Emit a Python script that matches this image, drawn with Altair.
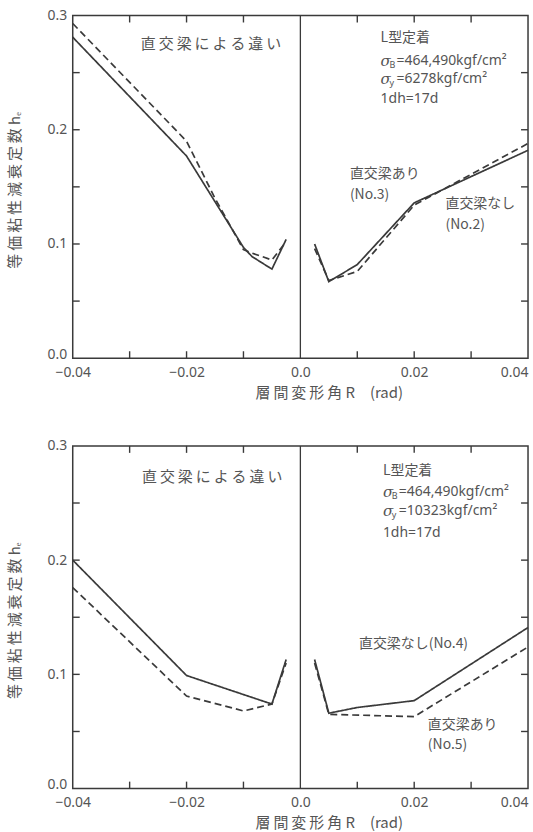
import altair as alt
import pandas as pd

# ---- upper panel: No.2 (no cross beam, solid) / No.3 (with cross beam, dashed)
top_solid_left_R = [-0.04, -0.02, -0.015, -0.01, -0.0085, -0.005, -0.0025]
top_solid_left_h = [0.281, 0.177, 0.137, 0.097, 0.089, 0.078, 0.104]
top_dashed_left_R = [-0.04, -0.02, -0.015, -0.01, -0.0085, -0.005, -0.0025]
top_dashed_left_h = [0.293, 0.190, 0.140, 0.095, 0.092, 0.086, 0.102]
top_solid_right_R = [0.0025, 0.005, 0.01, 0.02, 0.04]
top_solid_right_h = [0.100, 0.067, 0.082, 0.136, 0.182]
top_dashed_right_R = [0.0025, 0.005, 0.01, 0.02, 0.04]
top_dashed_right_h = [0.096, 0.068, 0.076, 0.134, 0.188]

# ---- lower panel: No.4 (no cross beam, solid) / No.5 (with cross beam, dashed)
bot_solid_left_R = [-0.04, -0.02, -0.005, -0.0025]
bot_solid_left_h = [0.200, 0.099, 0.074, 0.113]
bot_dashed_left_R = [-0.04, -0.02, -0.01, -0.005, -0.0025]
bot_dashed_left_h = [0.176, 0.081, 0.068, 0.074, 0.110]
bot_solid_right_R = [0.0025, 0.005, 0.01, 0.02, 0.04]
bot_solid_right_h = [0.113, 0.066, 0.071, 0.077, 0.141]
bot_dashed_right_R = [0.0025, 0.005, 0.02, 0.04]
bot_dashed_right_h = [0.110, 0.065, 0.063, 0.124]

# axis tick values
x_label_values = [-0.04, -0.02, 0.0, 0.02, 0.04]
y_label_values = [0.0, 0.1, 0.2, 0.3]
x_minor = [-0.03, -0.02, -0.01, 0.01, 0.02, 0.03]
y_minor = [0.05, 0.1, 0.15, 0.2, 0.25]

W, H = 457, 344
INK = "#3a3a3a"
TXT = "#555555"
JP = "Noto Sans CJK JP"
LAT = "Noto Sans"
TS = "\u2009"
TL = 7  # inward tick length


def spaced(s):
    return TS.join(list(s))


def series_frame(parts):
    rows = []
    for kind, branch, rs, hs in parts:
        for i, (r, h) in enumerate(zip(rs, hs)):
            rows.append({"R": r, "h": h, "kind": kind, "branch": kind + branch, "i": i})
    return pd.DataFrame(rows)


top_lines = series_frame([
    ("solid", "L", top_solid_left_R, top_solid_left_h),
    ("dashed", "L", top_dashed_left_R, top_dashed_left_h),
    ("solid", "R", top_solid_right_R, top_solid_right_h),
    ("dashed", "R", top_dashed_right_R, top_dashed_right_h),
])
bot_lines = series_frame([
    ("solid", "L", bot_solid_left_R, bot_solid_left_h),
    ("dashed", "L", bot_dashed_left_R, bot_dashed_left_h),
    ("solid", "R", bot_solid_right_R, bot_solid_right_h),
    ("dashed", "R", bot_dashed_right_R, bot_dashed_right_h),
])

x_scale = alt.Scale(domain=[-0.04, 0.04], nice=False, zero=False)
y_scale = alt.Scale(domain=[0.0, 0.3], nice=False)

x_axis = alt.Axis(
    values=x_label_values, ticks=False, tickSize=0, grid=False, domain=False,
    labelExpr="datum.value == 0 ? '0.0' : format(datum.value, '.2f')",
    labelAlign={"condition": {"test": "datum.value >= 0.04", "value": "right"}, "value": "center"},
    labelPadding=7, labelFontSize=14, labelFont=LAT, labelColor=TXT,
    title="層" + TS + "間" + TS + "変" + TS + "形" + TS + "角 R\u3000(rad)",
    titleX=257, titleY=34, titleBaseline="middle", titleFont=JP, titleFontSize=15,
    titleFontWeight="normal", titleColor=TXT,
)
y_axis = alt.Axis(
    values=y_label_values, ticks=False, tickSize=0, grid=False, domain=False,
    format=".1f", labelPadding=6, labelFontSize=14, labelFont=LAT, labelColor=TXT,
    labelOffset={"condition": {"test": "datum.value == 0", "value": -4}, "value": 0},
    title=spaced("等価粘性減衰定数") + " hₑ",
    titleX=-58, titleY=175, titleAngle=270, titleBaseline="middle", titleFont=JP,
    titleFontSize=15, titleFontWeight="normal", titleColor=TXT,
)


def xenc():
    return alt.X("R:Q", scale=x_scale, axis=x_axis)


def yenc():
    return alt.Y("h:Q", scale=y_scale, axis=y_axis)


def panel(lines, notes_left, heading, sy_text, params_R, params_h):
    curves = alt.Chart(lines).mark_line(color=INK, strokeWidth=1.7).encode(
        x=xenc(), y=yenc(), detail="branch:N", order="i:Q",
        strokeDash=alt.StrokeDash("kind:N", scale=alt.Scale(domain=["solid", "dashed"],
                                                              range=[[1, 0], [7, 4]]), legend=None),
    )

    zero = alt.Chart(pd.DataFrame({"R": [0.0]})).mark_rule(color=INK, strokeWidth=1.3).encode(x=xenc())

    # inward ticks on all four sides of the frame
    yt = pd.DataFrame({"h": y_minor})
    xt = pd.DataFrame({"R": x_minor})
    ticks = [
        alt.Chart(yt).mark_rule(color=INK, strokeWidth=1.4).encode(
            y=yenc(), x=alt.value(0), x2=alt.value(TL)),
        alt.Chart(yt).mark_rule(color=INK, strokeWidth=1.4).encode(
            y=yenc(), x=alt.value(W - TL), x2=alt.value(W)),
        alt.Chart(xt).mark_rule(color=INK, strokeWidth=1.4).encode(
            x=xenc(), y=alt.value(0), y2=alt.value(TL)),
        alt.Chart(xt).mark_rule(color=INK, strokeWidth=1.4).encode(
            x=xenc(), y=alt.value(H - TL), y2=alt.value(H)),
    ]

    head = alt.Chart(pd.DataFrame([heading])).mark_text(
        font=JP, fontSize=15, color=TXT, align="center", baseline="middle").encode(
        x=xenc(), y=yenc(), text="t:N")

    notes = alt.Chart(pd.DataFrame(notes_left)).mark_text(
        font=JP, fontSize=14, color=TXT, align="left", baseline="middle").encode(
        x=xenc(), y=yenc(), text="t:N")

    # anchorage block: L型定着 / σB / σy / 1dh
    pr = params_R
    ph = params_h
    rows = [
        {"R": pr, "h": ph[0], "t": "L型定着", "dx": 0, "font": JP},
        {"R": pr, "h": ph[1], "t": "=464,490kgf/cm²", "dx": 16, "font": LAT},
        {"R": pr, "h": ph[2], "t": "=" + sy_text + "kgf/cm²", "dx": 16, "font": LAT},
        {"R": pr, "h": ph[3], "t": "1dh=17d", "dx": 0, "font": LAT},
    ]
    layers_p = []
    for row in rows:
        layers_p.append(alt.Chart(pd.DataFrame([row])).mark_text(
            font=row["font"], fontSize=14, color=TXT,
            align="left", baseline="middle", dx=row["dx"]).encode(
            x=xenc(), y=yenc(), text="t:N"))
    sig = pd.DataFrame([{"R": pr, "h": ph[1]}, {"R": pr, "h": ph[2]}])
    layers_p.append(alt.Chart(sig).mark_text(
        font="DejaVu Serif", fontSize=15, fontStyle="italic", color=TXT, align="left",
        baseline="middle", text="σ").encode(x=xenc(), y=yenc()))
    subs = pd.DataFrame([{"R": pr, "h": ph[1], "t": "B"}, {"R": pr, "h": ph[2], "t": "y"}])
    layers_p.append(alt.Chart(subs).mark_text(
        font=LAT, fontSize=9, color=TXT, align="left", baseline="middle", dx=9, dy=4).encode(
        x=xenc(), y=yenc(), text="t:N"))

    return alt.layer(curves, zero, *ticks, head, notes, *layers_p).properties(width=W, height=H)


top = panel(
    top_lines,
    [
        {"R": 0.0087, "h": 0.161, "t": "直交梁あり"},
        {"R": 0.0087, "h": 0.143, "t": "(No.3)"},
        {"R": 0.0255, "h": 0.135, "t": "直交梁なし"},
        {"R": 0.0255, "h": 0.117, "t": "(No.2)"},
    ],
    {"R": -0.0157, "h": 0.275, "t": spaced("直交梁による違い")},
    "6278",
    0.0141, [0.280, 0.260, 0.244, 0.227],
)

bottom = panel(
    bot_lines,
    [
        {"R": 0.0103, "h": 0.127, "t": "直交梁なし(No.4)"},
        {"R": 0.0224, "h": 0.056, "t": "直交梁あり"},
        {"R": 0.0224, "h": 0.038, "t": "(No.5)"},
    ],
    {"R": -0.0155, "h": 0.273, "t": spaced("直交梁による違い")},
    "10323",
    0.0145, [0.278, 0.260, 0.243, 0.224],
)

chart = alt.vconcat(top, bottom, spacing=37).properties(
    padding={"left": 7, "top": 6, "right": 0, "bottom": 0},
    background="white",
).configure_view(stroke=INK, strokeWidth=1.5)

chart.save("out.html", embed_options={"renderer": "svg", "actions": False})
